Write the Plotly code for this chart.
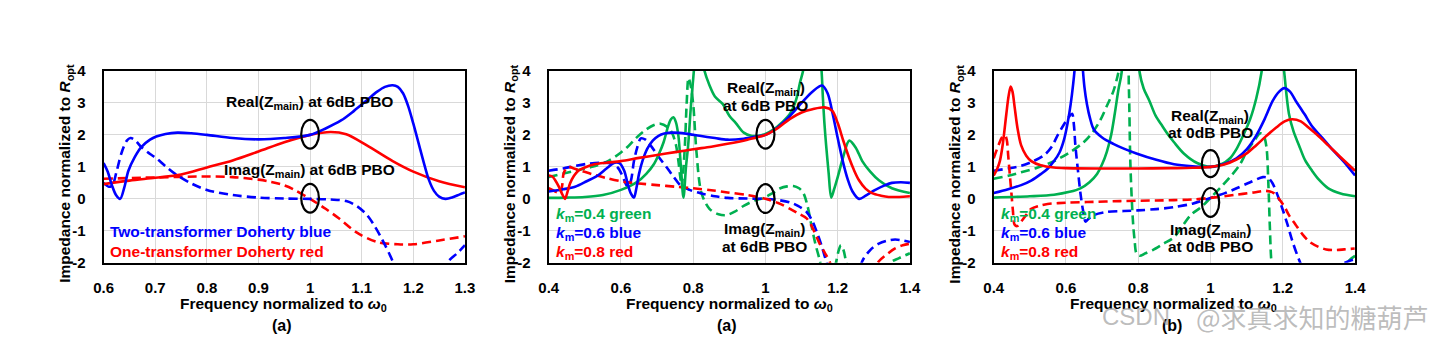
import plotly.graph_objects as go

W, H = 1437, 353
BLUE, RED, GREEN = "#0000FF", "#FF0000", "#00B050"

# ---------------- Panel 1 (two- vs one-transformer Doherty) ----------------
p1_two_real_x = [0.6, 0.608, 0.616, 0.624, 0.632, 0.64, 0.648, 0.66, 0.673, 0.69, 0.702, 0.72, 0.743, 0.77, 0.8, 0.85, 0.9, 0.95, 1.0, 1.03, 1.06, 1.085, 1.11, 1.13, 1.145, 1.16, 1.17, 1.18, 1.19, 1.2, 1.21, 1.22, 1.23, 1.24, 1.25, 1.262, 1.275, 1.29, 1.3]
p1_two_real_y = [1.12, 0.85, 0.43, 0.12, 0.0, 0.35, 0.88, 1.3, 1.62, 1.85, 1.95, 2.03, 2.07, 2.05, 2.0, 1.9, 1.86, 1.9, 2.0, 2.2, 2.45, 2.75, 3.08, 3.35, 3.5, 3.55, 3.5, 3.3, 2.9, 2.35, 1.75, 1.15, 0.6, 0.25, 0.07, 0.0, 0.04, 0.14, 0.2]

p1_two_imag_x = [0.6, 0.61, 0.617, 0.625, 0.635, 0.645, 0.652, 0.66, 0.673, 0.69, 0.702, 0.72, 0.743, 0.77, 0.8, 0.85, 0.9, 0.95, 1.0, 1.04, 1.07, 1.09, 1.11, 1.125, 1.14, 1.16, 1.18, 1.2, 1.22, 1.24, 1.255, 1.268, 1.285, 1.3]
p1_two_imag_y = [0.5, 0.38, 0.42, 0.85, 1.45, 1.82, 1.9, 1.85, 1.62, 1.4, 1.27, 1.02, 0.73, 0.48, 0.28, 0.12, 0.04, 0.01, 0.0, -0.02, -0.07, -0.22, -0.5, -0.85, -1.28, -1.95, -2.8, -3.4, -3.4, -2.9, -2.4, -1.95, -1.7, -1.45]

p1_one_real_x = [0.6, 0.65, 0.7, 0.75, 0.8, 0.85, 0.9, 0.95, 1.0, 1.04, 1.07, 1.11, 1.16, 1.2, 1.25, 1.3]
p1_one_real_y = [0.46, 0.57, 0.66, 0.76, 0.98, 1.2, 1.48, 1.77, 2.0, 2.09, 2.02, 1.67, 1.18, 0.85, 0.55, 0.36]

p1_one_imag_x = [0.6, 0.7, 0.8, 0.85, 0.9, 0.925, 0.95, 0.97, 1.0, 1.03, 1.055, 1.09, 1.13, 1.17, 1.2, 1.25, 1.3]
p1_one_imag_y = [0.63, 0.67, 0.7, 0.68, 0.6, 0.53, 0.42, 0.28, 0.0, -0.31, -0.6, -1.05, -1.35, -1.42, -1.42, -1.3, -1.17]

# ---------------- Panel 2 (6 dB PBO, km sweep) ----------------
p2_g_real_x = [0.4, 0.45, 0.5, 0.55, 0.6, 0.645, 0.67, 0.691, 0.705, 0.718, 0.73, 0.738, 0.745, 0.752, 0.759, 0.766, 0.773, 0.78, 0.786, 0.793, 0.8, 0.808, 0.815, 0.822, 0.83, 0.845, 0.86, 0.882, 0.9, 0.918, 0.94, 0.96, 0.98, 1.0, 1.023, 1.045, 1.068, 1.085, 1.096, 1.105, 1.118, 1.13, 1.142, 1.155, 1.159, 1.163, 1.168, 1.175, 1.182, 1.19, 1.2, 1.215, 1.232, 1.25, 1.268, 1.29, 1.314, 1.35, 1.4]
p2_g_real_y = [0.03, 0.04, 0.06, 0.12, 0.28, 0.53, 0.78, 1.08, 1.4, 1.77, 2.25, 2.48, 2.55, 2.4, 1.97, 1.0, 0.04, 1.0, 1.67, 2.8, 3.76, 4.6, 4.8, 4.6, 4.05, 3.55, 3.2, 2.96, 2.6, 2.37, 2.07, 1.97, 1.97, 2.03, 2.17, 2.38, 2.66, 3.1, 3.65, 4.05, 5.5, 6.5, 5.5, 4.05, 3.16, 2.4, 1.67, 0.8, 0.04, 0.3, 0.68, 1.3, 1.82, 1.6, 1.18, 0.85, 0.58, 0.33, 0.18]

p2_g_imag_x = [0.4, 0.473, 0.52, 0.564, 0.6, 0.618, 0.64, 0.664, 0.69, 0.709, 0.728, 0.741, 0.752, 0.759, 0.764, 0.768, 0.772, 0.777, 0.782, 0.787, 0.792, 0.8, 0.809, 0.823, 0.845, 0.87, 0.891, 0.915, 0.941, 0.97, 0.995, 1.02, 1.041, 1.06, 1.077, 1.093, 1.105, 1.116, 1.127, 1.138, 1.15, 1.165, 1.18, 1.195, 1.203, 1.209, 1.216, 1.223, 1.24, 1.28, 1.32, 1.345, 1.37, 1.4]
p2_g_imag_y = [0.68, 0.88, 1.0, 1.18, 1.45, 1.62, 1.88, 2.12, 2.3, 2.35, 2.25, 2.07, 1.7, 1.18, 0.7, 0.38, 0.8, 1.67, 3.0, 3.78, 3.6, 2.96, 1.47, 0.18, -0.31, -0.48, -0.51, -0.4, -0.21, -0.05, 0.03, 0.18, 0.33, 0.39, 0.4, 0.33, 0.18, -0.2, -0.81, -1.4, -1.9, -2.6, -2.6, -2.0, -1.6, -1.45, -1.6, -1.95, -2.6, -3.0, -2.6, -2.0, -1.85, -1.7]

p2_b_real_x = [0.4, 0.44, 0.473, 0.505, 0.536, 0.56, 0.582, 0.596, 0.609, 0.618, 0.627, 0.636, 0.643, 0.65, 0.66, 0.673, 0.688, 0.704, 0.72, 0.745, 0.78, 0.818, 0.86, 0.895, 0.94, 0.977, 1.0, 1.03, 1.06, 1.1, 1.13, 1.157, 1.172, 1.186, 1.2, 1.214, 1.228, 1.241, 1.259, 1.28, 1.304, 1.33, 1.35, 1.375, 1.4]
p2_b_real_y = [0.23, 0.3, 0.38, 0.55, 0.73, 0.95, 1.13, 1.12, 0.88, 0.5, 0.18, 0.04, 0.35, 0.78, 1.2, 1.57, 1.82, 1.97, 2.04, 2.07, 2.04, 1.97, 1.9, 1.85, 1.88, 1.95, 2.0, 2.2, 2.5, 3.0, 3.35, 3.54, 3.3, 2.66, 1.9, 1.18, 0.6, 0.23, 0.0, 0.12, 0.28, 0.42, 0.5, 0.52, 0.5]

p2_b_imag_x = [0.4, 0.44, 0.473, 0.51, 0.545, 0.575, 0.591, 0.605, 0.618, 0.627, 0.636, 0.645, 0.655, 0.668, 0.682, 0.705, 0.727, 0.745, 0.764, 0.79, 0.818, 0.86, 0.895, 0.95, 0.995, 1.03, 1.068, 1.09, 1.114, 1.128, 1.141, 1.155, 1.168, 1.19, 1.22, 1.25, 1.268, 1.29, 1.314, 1.34, 1.359, 1.38, 1.4]
p2_b_imag_y = [0.88, 0.95, 1.03, 1.1, 1.13, 1.1, 0.98, 0.7, 0.38, 0.55, 1.18, 1.6, 1.89, 1.85, 1.67, 1.3, 0.98, 0.7, 0.43, 0.28, 0.18, 0.08, 0.03, 0.01, 0.0, -0.03, -0.11, -0.22, -0.41, -0.65, -1.0, -1.45, -1.95, -2.8, -3.2, -2.8, -1.95, -1.6, -1.4, -1.3, -1.27, -1.3, -1.35]

p2_r_real_x = [0.4, 0.41, 0.418, 0.428, 0.436, 0.445, 0.452, 0.459, 0.47, 0.482, 0.5, 0.527, 0.56, 0.6, 0.65, 0.7, 0.75, 0.8, 0.85, 0.895, 0.95, 1.0, 1.035, 1.068, 1.1, 1.13, 1.164, 1.185, 1.2, 1.216, 1.232, 1.245, 1.259, 1.277, 1.295, 1.32, 1.341, 1.37, 1.4]
p2_r_real_y = [0.73, 0.7, 0.58, 0.38, 0.18, 0.0, 0.22, 0.48, 0.72, 0.88, 0.98, 1.08, 1.13, 1.18, 1.28, 1.37, 1.46, 1.55, 1.63, 1.72, 1.85, 2.0, 2.22, 2.5, 2.7, 2.8, 2.86, 2.75, 2.37, 1.8, 1.27, 0.9, 0.58, 0.32, 0.18, 0.1, 0.06, 0.06, 0.08]

p2_r_imag_x = [0.4, 0.41, 0.418, 0.425, 0.432, 0.437, 0.441, 0.447, 0.455, 0.47, 0.49, 0.518, 0.56, 0.609, 0.65, 0.7, 0.75, 0.8, 0.85, 0.895, 0.95, 1.0, 1.035, 1.068, 1.09, 1.114, 1.13, 1.15, 1.165, 1.177, 1.2, 1.24, 1.28, 1.314, 1.34, 1.359, 1.38, 1.4]
p2_r_imag_y = [0.33, 0.28, 0.23, 0.2, 0.18, 0.4, 0.78, 0.93, 1.0, 0.95, 0.88, 0.78, 0.65, 0.53, 0.48, 0.43, 0.38, 0.33, 0.27, 0.2, 0.12, 0.0, -0.13, -0.31, -0.45, -0.61, -0.9, -1.4, -1.7, -1.95, -2.6, -3.0, -2.6, -1.95, -1.7, -1.55, -1.45, -1.4]

# ---------------- Panel 3 (0 dB PBO, km sweep) ----------------
p3_g_real_x = [0.4, 0.5, 0.567, 0.61, 0.64, 0.665, 0.686, 0.7, 0.713, 0.725, 0.735, 0.745, 0.754, 0.762, 0.77, 0.779, 0.788, 0.796, 0.804, 0.815, 0.831, 0.848, 0.867, 0.885, 0.899, 0.926, 0.963, 1.0, 1.03, 1.054, 1.073, 1.09, 1.11, 1.127, 1.141, 1.155, 1.172, 1.19, 1.204, 1.217, 1.23, 1.245, 1.262, 1.281, 1.3, 1.326, 1.36, 1.4]
p3_g_real_y = [0.04, 0.08, 0.13, 0.22, 0.33, 0.52, 0.78, 1.08, 1.47, 2.0, 2.66, 3.4, 3.95, 5.5, 8.0, 9.0, 8.0, 5.5, 3.95, 3.45, 3.06, 2.6, 2.27, 1.97, 1.77, 1.42, 1.12, 1.0, 1.08, 1.27, 1.58, 1.97, 2.5, 3.16, 3.95, 5.5, 8.0, 5.5, 3.95, 2.66, 2.1, 1.67, 1.2, 0.88, 0.6, 0.33, 0.17, 0.08]

p3_g_imag_x = [0.4, 0.44, 0.476, 0.52, 0.567, 0.61, 0.649, 0.675, 0.695, 0.713, 0.731, 0.742, 0.752, 0.762, 0.77, 0.774, 0.778, 0.782, 0.786, 0.79, 0.795, 0.804, 0.82, 0.84, 0.87, 0.899, 0.945, 0.975, 1.0, 1.03, 1.054, 1.08, 1.1, 1.12, 1.138, 1.148, 1.155, 1.16, 1.164, 1.168, 1.175, 1.2, 1.25, 1.3, 1.35, 1.386, 1.4]
p3_g_imag_y = [0.63, 0.72, 0.83, 0.97, 1.18, 1.45, 1.77, 2.1, 2.46, 2.9, 3.36, 3.8, 4.3, 4.6, 4.5, 3.5, 1.18, 0.0, -0.81, -1.3, -1.7, -1.78, -1.7, -1.6, -1.4, -1.2, -0.51, -0.25, 0.03, 0.38, 0.68, 1.05, 1.47, 1.8, 2.05, 1.95, 1.6, 0.5, -0.8, -1.9, -2.7, -3.5, -3.6, -3.2, -2.5, -1.9, -1.78]

p3_b_real_x = [0.4, 0.44, 0.476, 0.505, 0.531, 0.55, 0.567, 0.582, 0.595, 0.605, 0.613, 0.62, 0.626, 0.632, 0.636, 0.64, 0.645, 0.651, 0.658, 0.667, 0.677, 0.7, 0.731, 0.76, 0.795, 0.85, 0.899, 0.95, 1.0, 1.04, 1.072, 1.1, 1.126, 1.15, 1.172, 1.19, 1.204, 1.22, 1.236, 1.26, 1.281, 1.31, 1.335, 1.37, 1.4]
p3_b_real_y = [0.18, 0.3, 0.43, 0.58, 0.78, 0.95, 1.18, 1.45, 1.87, 2.4, 2.96, 3.6, 4.3, 5.2, 5.5, 5.2, 4.3, 3.5, 2.96, 2.5, 2.17, 1.92, 1.72, 1.57, 1.42, 1.22, 1.08, 1.02, 1.0, 1.1, 1.27, 1.55, 1.97, 2.5, 3.06, 3.35, 3.46, 3.35, 3.06, 2.65, 2.27, 1.9, 1.57, 1.15, 0.73]

p3_b_imag_x = [0.4, 0.44, 0.476, 0.51, 0.54, 0.56, 0.576, 0.593, 0.608, 0.617, 0.622, 0.626, 0.633, 0.64, 0.647, 0.654, 0.66, 0.677, 0.713, 0.76, 0.799, 0.85, 0.899, 0.95, 1.0, 1.04, 1.072, 1.11, 1.145, 1.16, 1.172, 1.186, 1.199, 1.213, 1.226, 1.245, 1.27, 1.3, 1.34, 1.368, 1.4]
p3_b_imag_y = [0.88, 0.95, 1.03, 1.18, 1.37, 1.62, 1.97, 2.3, 2.56, 2.66, 2.3, 1.67, 0.9, 0.18, -0.35, -0.71, -0.65, -0.51, -0.41, -0.38, -0.36, -0.32, -0.26, -0.15, 0.03, 0.18, 0.33, 0.52, 0.68, 0.65, 0.48, 0.1, -0.31, -0.8, -1.3, -1.9, -2.5, -2.7, -2.3, -2.02, -1.88]

p3_r_real_x = [0.4, 0.41, 0.417, 0.425, 0.435, 0.441, 0.447, 0.452, 0.458, 0.466, 0.476, 0.49, 0.504, 0.53, 0.567, 0.6, 0.7, 0.8, 0.89, 0.95, 1.0, 1.04, 1.072, 1.1, 1.126, 1.155, 1.181, 1.205, 1.226, 1.25, 1.272, 1.3, 1.326, 1.36, 1.4]
p3_r_real_y = [0.73, 0.95, 1.18, 1.7, 2.66, 3.2, 3.51, 3.35, 2.86, 2.2, 1.67, 1.35, 1.18, 1.05, 0.98, 0.96, 0.95, 0.95, 0.96, 0.97, 1.0, 1.08, 1.23, 1.42, 1.67, 1.97, 2.22, 2.42, 2.49, 2.42, 2.22, 1.95, 1.67, 1.3, 0.88]

p3_r_imag_x = [0.4, 0.413, 0.423, 0.431, 0.436, 0.44, 0.445, 0.449, 0.453, 0.458, 0.465, 0.476, 0.49, 0.504, 0.525, 0.549, 0.6, 0.658, 0.75, 0.85, 0.899, 0.95, 1.0, 1.072, 1.12, 1.154, 1.175, 1.19, 1.205, 1.217, 1.235, 1.254, 1.275, 1.299, 1.32, 1.345, 1.37, 1.399]
p3_r_imag_y = [1.27, 1.67, 1.92, 1.99, 1.85, 1.37, 0.7, 0.18, -0.35, -0.81, -0.85, -0.71, -0.5, -0.31, -0.22, -0.16, -0.12, -0.1, -0.07, -0.05, -0.04, -0.02, 0.03, 0.13, 0.2, 0.25, 0.18, -0.01, -0.25, -0.51, -0.8, -1.1, -1.35, -1.5, -1.58, -1.6, -1.58, -1.55]

# ---------------- tick labels ----------------
p1_xticks = [0.6, 0.7, 0.8, 0.9, 1.0, 1.1, 1.2, 1.3]
p1_xticktext = ["0.6", "0.7", "0.8", "0.9", "1", "1.1", "1.2", "1.3"]
p23_xticks = [0.4, 0.6, 0.8, 1.0, 1.2, 1.4]
p23_xticktext = ["0.4", "0.6", "0.8", "1", "1.2", "1.4"]
yticks = [-2, -1, 0, 1, 2, 3, 4]
yticktext = ["-2", "-1", "0", "1", "2", "3", "4"]


def px(x):
    return x / W


def py(y):
    return 1 - y / H


FONT = "Arial"
fig = go.Figure()


def add_line(xs, ys, color, axis, dash=None):
    fig.add_trace(go.Scatter(
        x=xs, y=ys, mode="lines", xaxis="x" + axis, yaxis="y" + axis,
        line=dict(color=color, width=2.6, shape="spline", smoothing=0.9,
                  dash=("9px,5px" if dash else "solid")),
        showlegend=False, hoverinfo="skip"))


# panel 1
add_line(p1_one_imag_x, p1_one_imag_y, RED, "", True)
add_line(p1_two_imag_x, p1_two_imag_y, BLUE, "", True)
add_line(p1_one_real_x, p1_one_real_y, RED, "")
add_line(p1_two_real_x, p1_two_real_y, BLUE, "")
# panel 2
add_line(p2_g_imag_x, p2_g_imag_y, GREEN, "2", True)
add_line(p2_b_imag_x, p2_b_imag_y, BLUE, "2", True)
add_line(p2_r_imag_x, p2_r_imag_y, RED, "2", True)
add_line(p2_g_real_x, p2_g_real_y, GREEN, "2")
add_line(p2_b_real_x, p2_b_real_y, BLUE, "2")
add_line(p2_r_real_x, p2_r_real_y, RED, "2")
# panel 3
add_line(p3_g_imag_x, p3_g_imag_y, GREEN, "3", True)
add_line(p3_b_imag_x, p3_b_imag_y, BLUE, "3", True)
add_line(p3_r_imag_x, p3_r_imag_y, RED, "3", True)
add_line(p3_g_real_x, p3_g_real_y, GREEN, "3")
add_line(p3_b_real_x, p3_b_real_y, BLUE, "3")
add_line(p3_r_real_x, p3_r_real_y, RED, "3")

ydom = [py(266.7), py(65)]
tickfont = dict(family=FONT, size=15, color="black", weight="bold")
common = dict(showline=True, linecolor="black", linewidth=2, mirror=True,
              showgrid=True, gridcolor="#d9d9d9", gridwidth=1, zeroline=False,
              ticks="", tickfont=tickfont)

fig.update_layout(
    width=W, height=H, margin=dict(l=0, r=0, t=0, b=0),
    paper_bgcolor="white", plot_bgcolor="white", showlegend=False,
    xaxis=dict(domain=[px(95), px(461.7)], range=[0.6, 1.3], anchor="y",
               tickvals=p1_xticks, ticktext=p1_xticktext, ticklabelstandoff=10, **common),
    yaxis=dict(domain=ydom, range=[-2, 4], anchor="x",
               tickvals=yticks, ticktext=yticktext, ticklabelstandoff=13, **common),
    xaxis2=dict(domain=[px(546.7), px(913.3)], range=[0.4, 1.4], anchor="y2",
                tickvals=p23_xticks, ticktext=p23_xticktext, ticklabelstandoff=10, **common),
    yaxis2=dict(domain=ydom, range=[-2, 4], anchor="x2",
                tickvals=yticks, ticktext=yticktext, ticklabelstandoff=13, **common),
    xaxis3=dict(domain=[px(998.3), px(1365)], range=[0.4, 1.4], anchor="y3",
                tickvals=p23_xticks, ticktext=p23_xticktext, ticklabelstandoff=10, **common),
    yaxis3=dict(domain=ydom, range=[-2, 4], anchor="x3",
                tickvals=yticks, ticktext=yticktext, ticklabelstandoff=13, **common),
)

# ellipses
ell = [("", 1.0, 2.02, 0.0172, 0.45), ("", 1.0, 0.02, 0.0172, 0.45),
       ("2", 1.0, 2.02, 0.025, 0.45), ("2", 1.0, 0.01, 0.025, 0.45),
       ("3", 1.0, 1.1, 0.024, 0.42), ("3", 1.0, -0.11, 0.024, 0.45)]
for ax, cx, cy, rx, ry in ell:
    fig.add_shape(type="circle", xref="x" + ax, yref="y" + ax,
                  x0=cx - rx, x1=cx + rx, y0=cy - ry, y1=cy + ry,
                  line=dict(color="black", width=2.2))


def note(text, x, y, size=15.5, color="black", xanchor="center", angle=0, bold=True, family=FONT):
    fig.add_annotation(text=text, x=px(x), y=py(y), xref="paper", yref="paper",
                       xanchor=xanchor, yanchor="middle", showarrow=False, textangle=angle,
                       font=dict(family=family, size=size, color=color,
                                 weight="bold" if bold else "normal"))


ZM = "Z<sub>main</sub>"
# panel 1 texts
note(f"Real({ZM}) at 6dB PBO", 304, 98)
note(f"Imag({ZM}) at 6dB PBO", 304, 170)
note("Two-transformer Doherty blue", 99, 234, color=BLUE, xanchor="left")
note("One-transformer Doherty red", 99, 255, color=RED, xanchor="left")
# panel 2 texts
note(f"Real({ZM})", 767, 83)
note("at 6dB PBO", 767, 101)
note(f"Imag({ZM})", 766, 232)
note("at 6dB PBO", 766, 249)
note("<i>k</i><sub>m</sub>=0.4 green", 552, 216, color=GREEN, xanchor="left")
note("<i>k</i><sub>m</sub>=0.6 blue", 552, 236, color=BLUE, xanchor="left")
note("<i>k</i><sub>m</sub>=0.8 red", 552, 256, color=RED, xanchor="left")
# panel 3 texts
note(f"Real({ZM})", 1218, 113)
note("at 0dB PBO", 1218, 130)
note(f"Imag({ZM})", 1218, 233)
note("at 0dB PBO", 1218, 249)
note("<i>k</i><sub>m</sub>=0.4 green", 1004, 216, color=GREEN, xanchor="left")
note("<i>k</i><sub>m</sub>=0.6 blue", 1004, 236, color=BLUE, xanchor="left")
note("<i>k</i><sub>m</sub>=0.8 red", 1004, 256, color=RED, xanchor="left")

# axis titles
YT = "Impedance normalized to <i>R</i><sub>opt</sub>"
XT = "Frequency normalized to <i>ω</i><sub>0</sub>"
for xc in (57, 508, 960):
    note(YT, xc, 173, angle=-90)
for xc, lab in ((278, "(a)"), (730, "(a)"), (1181, "(b)")):
    note(XT, xc, 310)
    note(lab, xc - 2, 333, size=16)

# watermark
note("CSDN", 1143, 323, size=24, color="rgba(160,160,160,0.7)", bold=False)
note("@求真求知的糖葫芦", 1322, 323, size=26, color="rgba(160,160,160,0.7)", bold=False,
     family="Noto Sans CJK SC")

fig.write_html("out.html")
